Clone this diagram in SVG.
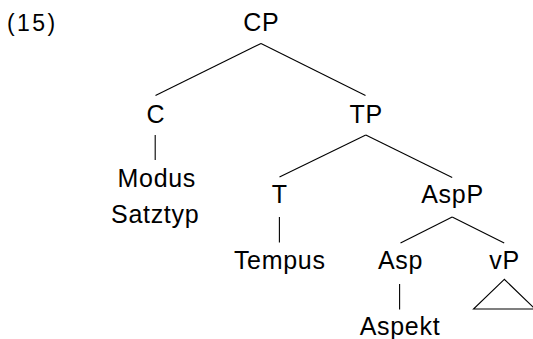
<svg xmlns="http://www.w3.org/2000/svg" width="533" height="339" viewBox="0 0 533 339">
  <style>
    text { font-family: "Liberation Sans", Arial, sans-serif; font-size: 25px; fill: #000; text-anchor: middle; letter-spacing: 0.7px; }
    .num { text-anchor: start; font-size: 23px; letter-spacing: 2.4px; }
    .edge { stroke: #000; stroke-width: 1.1; fill: none; }
  </style>
  <rect width="533" height="339" fill="#fff"/>
  <text class="num" x="7" y="30.5">(15)</text>

  <g id="connectors">
    <line class="edge" x1="261" y1="43.4" x2="155.5" y2="95.5"/>
    <line class="edge" x1="261" y1="43.4" x2="365.5" y2="95.5"/>
    <line class="edge" x1="155.2" y1="135" x2="155.2" y2="160"/>
    <line class="edge" x1="365.8" y1="135" x2="279.5" y2="177"/>
    <line class="edge" x1="365.8" y1="135" x2="452.2" y2="177.5"/>
    <line class="edge" x1="279.4" y1="217" x2="279.4" y2="242.5"/>
    <line class="edge" x1="452.2" y1="217" x2="400.5" y2="243"/>
    <line class="edge" x1="452.2" y1="217" x2="504.2" y2="243"/>
    <line class="edge" x1="399.6" y1="284" x2="399.6" y2="309.5"/>
    <polygon class="edge" points="504.3,279.3 473.5,309 535.1,309"/>
  </g>

  <g id="CP"><text x="261.3" y="31">CP</text></g>
  <g id="C"><text x="155.8" y="122.5">C</text></g>
  <g id="TP"><text x="366.3" y="122.5">TP</text></g>
  <g id="Modus"><text x="156.8" y="186.5">Modus</text><text x="155.2" y="223.3">Satztyp</text></g>
  <g id="T"><text x="279.8" y="203">T</text></g>
  <g id="AspP"><text x="452.5" y="203">AspP</text></g>
  <g id="Tempus"><text x="279.8" y="269.3">Tempus</text></g>
  <g id="Asp"><text x="400.5" y="269.3">Asp</text></g>
  <g id="vP"><text x="504.5" y="269.3">vP</text></g>
  <g id="Aspekt"><text x="400" y="335">Aspekt</text></g>
</svg>
